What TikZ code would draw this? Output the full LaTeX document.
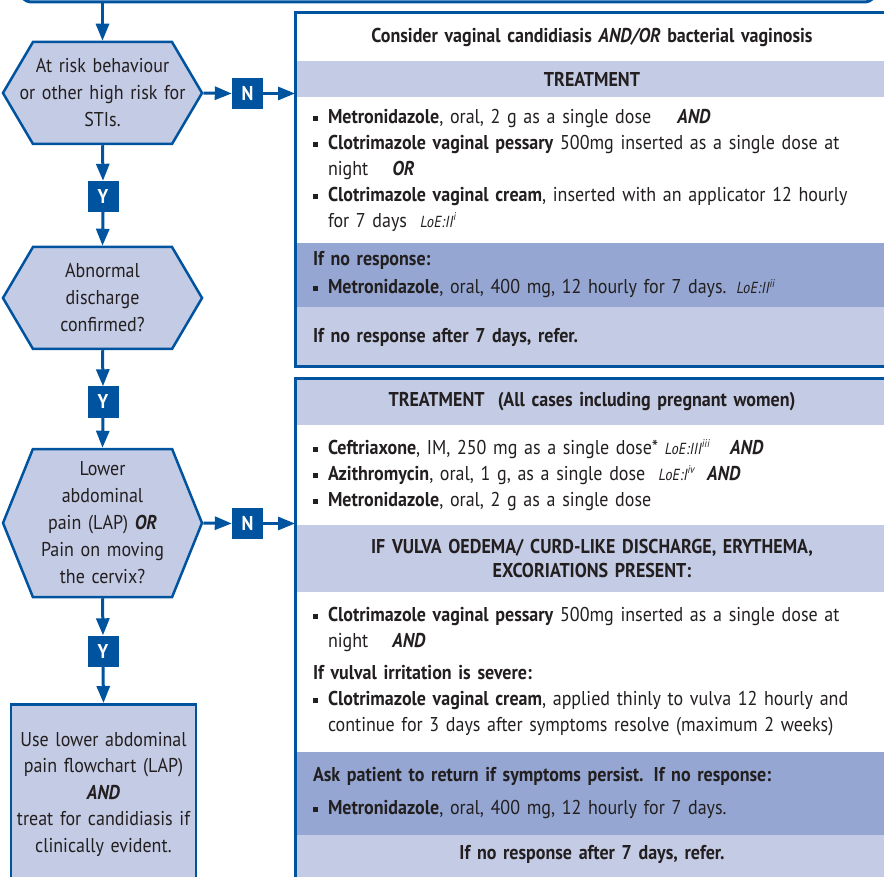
\documentclass[tikz,border=0pt]{standalone}
\usepackage{fontspec}
\setmainfont[FakeStretch=0.9, WordSpace=0.8]{PT Sans}
\usetikzlibrary{
    arrows.meta,
    shapes.symbols, % signal shape for the question nodes
    positioning
}

\definecolor{nhblue}{RGB}{0,84,159}
\definecolor{lightband}{RGB}{196,203,228}
\definecolor{darkband}{RGB}{148,166,209}
\definecolor{txtgrey}{RGB}{35,31,32}

\newcommand\itm{\makebox[15pt][l]{\rule[2.5pt]{4.5pt}{5pt}}}
\newcommand\cont{\hspace*{15pt}}
\newcommand\loe[1]{{\fontsize{16}{16}\selectfont\itshape LoE:#1}}
\newcommand\band[1]{\textbf{\textit{#1}}}

\begin{document}
\begin{tikzpicture}[
    x=1pt, y=-1pt,
    font=\fontsize{20}{26}\selectfont, text=txtgrey,
    hexnode/.style    = {signal, signal to=west and east, draw=nhblue, fill=lightband,
                         line width=2.5pt, minimum width=199pt, inner ysep=0pt,
                         inner xsep=-22pt, text width=183pt, align=center,
                         font=\fontsize{20}{27}\selectfont},
    answernode/.style = {rectangle, fill=nhblue, text=white, font=\fontsize{20}{20}\selectfont\bfseries,
                         minimum size=31pt, inner sep=0pt},
    lapnode/.style    = {rectangle, draw=nhblue, fill=lightband, line width=2.5pt,
                         minimum width=185pt, minimum height=180pt, text width=175pt,
                         inner xsep=5pt, align=center, anchor=north,
                         font=\fontsize{20}{26.5}\selectfont},
    bandnode/.style   = {rectangle, text width=558pt, inner xsep=18pt, inner ysep=0pt,
                         outer sep=0pt, anchor=north},
    panel/.style      = {draw=nhblue, line width=3pt},
    flow/.style       = {draw=nhblue, line width=3pt, -{Triangle[length=17pt,width=13pt]}},
]
    \useasboundingbox (0,0) rectangle (884,877);

    %Nodes
    \node[draw=nhblue, line width=3pt, rounded corners=14pt,
          minimum width=860pt, minimum height=62pt] (prevbox) at (448,-29) {};

    \node[hexnode, minimum height=102pt, signal pointer angle=119] (risk) at (102.5,93)
        {At risk behaviour\\or other high risk for\\STIs.};
    \node[answernode] (yrisk) at (103,196.5) {Y};
    \node[hexnode, minimum height=102pt, signal pointer angle=119] (discharge) at (102.5,298)
        {Abnormal\\discharge\\confirmed?};
    \node[answernode] (ydischarge) at (103,402) {Y};
    \node[hexnode, minimum height=148pt, signal pointer angle=136] (pain) at (102.5,523)
        {Lower\\abdominal\\pain (LAP) \band{OR}\\Pain on moving\\the cervix?};
    \node[answernode] (ypain) at (103,651) {Y};
    \node[lapnode] (lap) at (103.5,703)
        {Use lower abdominal\\pain flowchart (LAP)\\\band{AND}\\treat for candidiasis if\\clinically evident.};

    \node[answernode] (nrisk) at (247.5,93.5) {N};
    \node[answernode] (npain) at (247.5,523.5) {N};

    % first panel
    \node[bandnode, fill=white, minimum height=48pt, align=center] (vagtitle) at (592,13)
        {\textbf{Consider vaginal candidiasis \textit{AND/OR} bacterial vaginosis}};
    \node[bandnode, fill=lightband, minimum height=36pt, align=center, below=0pt of vagtitle] (vagtreat)
        {\textbf{TREATMENT}};
    \node[bandnode, fill=white, minimum height=146pt, align=left, below=0pt of vagtreat] (vagdrugs)
        {\itm\textbf{Metronidazole}, oral, 2 g as a single dose\hspace{1.3em}\band{AND}\\
         \itm\textbf{Clotrimazole vaginal pessary} 500mg inserted as a single dose at\\
         \cont night\hspace{1.2em}\band{OR}\\
         \itm\textbf{Clotrimazole vaginal cream}, inserted with an applicator 12 hourly\\
         \cont for 7 days \ \loe{II\textsuperscript{i}}};
    \node[bandnode, fill=darkband, minimum height=64pt, align=left, below=0pt of vagdrugs] (vagnoresp)
        {\textbf{If no response:}\\[2pt]
         \itm\textbf{Metronidazole}, oral, 400 mg, 12 hourly for 7 days. \loe{II\textsuperscript{ii}}};
    \node[bandnode, fill=lightband, minimum height=60pt, align=left, below=0pt of vagnoresp] (vagrefer)
        {\textbf{If no response after 7 days, refer.}};

    % second panel
    \node[bandnode, fill=lightband, minimum height=46pt, align=center] (alltreat) at (592,379)
        {\textbf{TREATMENT\ \ (All cases including pregnant women)}};
    \node[bandnode, fill=white, minimum height=100pt, align=left, below=0pt of alltreat] (alldrugs)
        {\itm\textbf{Ceftriaxone}, IM, 250 mg as a single dose* \loe{III\textsuperscript{iii}}\hspace{1em}\band{AND}\\
         \itm\textbf{Azithromycin}, oral, 1 g, as a single dose \ \loe{I\textsuperscript{iv}}\hspace{0.6em}\band{AND}\\
         \itm\textbf{Metronidazole}, oral, 2 g as a single dose};
    \node[bandnode, fill=lightband, minimum height=67pt, align=center, below=0pt of alldrugs,
          font=\fontsize{20}{24}\selectfont] (vulva)
        {\textbf{IF VULVA OEDEMA/ CURD-LIKE DISCHARGE, ERYTHEMA,\\EXCORIATIONS PRESENT:}};
    \node[bandnode, fill=white, minimum height=160pt, align=left, below=0pt of vulva] (cream)
        {\itm\textbf{Clotrimazole vaginal pessary} 500mg inserted as a single dose at\\
         \cont night\hspace{1.2em}\band{AND}\\[6pt]
         \textbf{If vulval irritation is severe:}\\
         \itm\textbf{Clotrimazole vaginal cream}, applied thinly to vulva 12 hourly and\\
         \cont continue for 3 days after symptoms resolve (maximum 2 weeks)};
    \node[bandnode, fill=darkband, minimum height=83pt, align=left, below=0pt of cream] (askback)
        {\textbf{Ask patient to return if symptoms persist. If no response:}\\[7pt]
         \itm\textbf{Metronidazole}, oral, 400 mg, 12 hourly for 7 days.};
    \node[bandnode, fill=lightband, text height=24pt, text depth=26pt, align=center,
          below=0pt of askback] (allrefer)
        {\textbf{If no response after 7 days, refer.}};

    \draw[panel] (vagtitle.north west) rectangle (vagrefer.south east);
    \draw[panel] (alltreat.north west) rectangle (allrefer.south east);

    %Lines
    \draw[flow] (prevbox.south -| risk.north) -- (risk.north);
    \draw[flow] (risk.south) -- (yrisk.north);
    \draw[flow] (yrisk.south) -- (discharge.north);
    \draw[flow] (discharge.south) -- (ydischarge.north);
    \draw[flow] (ydischarge.south) -- (pain.north);
    \draw[flow] (pain.south) -- (ypain.north);
    \draw[flow] (ypain.south) -- (lap.north);
    \draw[flow] (risk.east) -- (nrisk.west);
    \draw[flow] (nrisk.east) -- (nrisk -| vagtitle.west);
    \draw[flow] (pain.east) -- (npain.west);
    \draw[flow] (npain.east) -- (npain -| alltreat.west);
\end{tikzpicture}
\end{document}
